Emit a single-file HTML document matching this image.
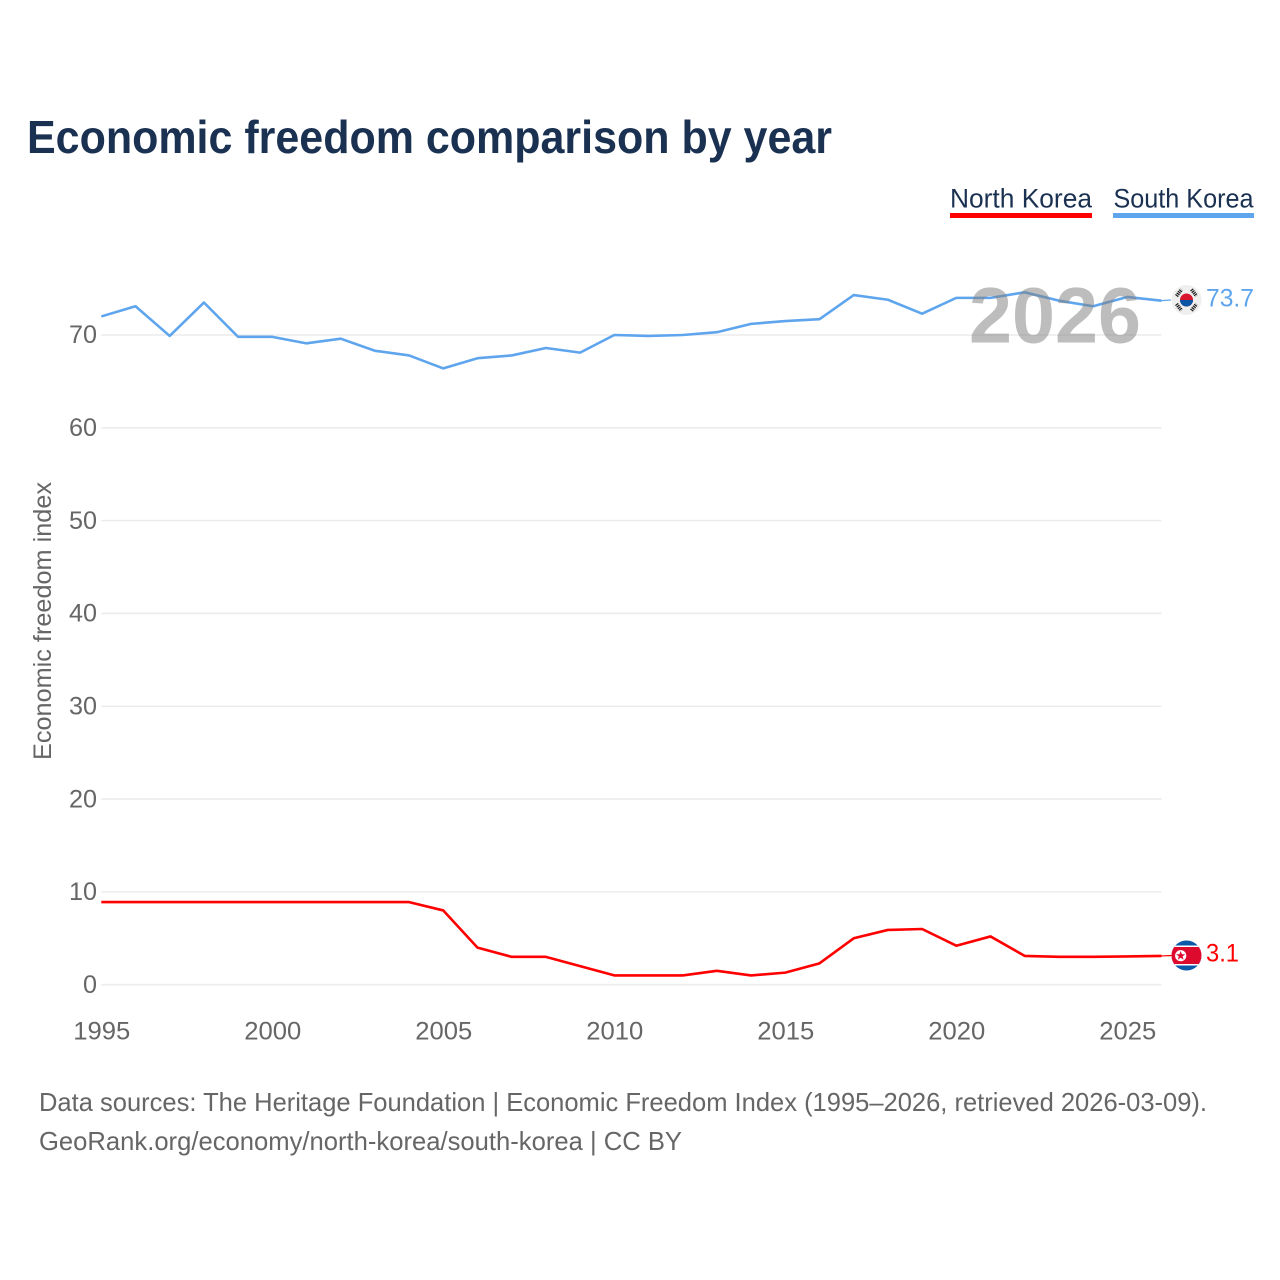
<!DOCTYPE html>
<html lang="en">
<head>
<meta charset="utf-8">
<title>Economic freedom comparison by year</title>
<style>
html,body{margin:0;padding:0;background:#fff;}
svg{display:block;font-family:"Liberation Sans",sans-serif;}
</style>
</head>
<body>
<svg id="chart" width="1280" height="1280" viewBox="0 0 1280 1280" xmlns="http://www.w3.org/2000/svg">
  <defs>
    <clipPath id="sk-clip"><circle cx="1186.5" cy="300" r="15"/></clipPath>
    <clipPath id="nk-clip"><circle cx="1186.5" cy="955.5" r="15"/></clipPath>
  </defs>
  <rect width="1280" height="1280" fill="#fff"/>
  <text x="27" y="153" font-size="46" font-weight="700" fill="#1a3152" textLength="805" lengthAdjust="spacingAndGlyphs">Economic freedom comparison by year</text>

  <g>
    <g>
      <text x="950" y="207.5" font-size="27" fill="#1a3152" textLength="142" lengthAdjust="spacingAndGlyphs">North Korea</text>
      <rect x="950" y="213" width="142" height="5" fill="#ff0000"/>
    </g>
    <g>
      <text x="1113.5" y="207.5" font-size="27" fill="#1a3152" textLength="140" lengthAdjust="spacingAndGlyphs">South Korea</text>
      <rect x="1113" y="213" width="141" height="5" fill="#5fa5ee"/>
    </g>
  </g>

  <g id="grid"></g>
  <g id="yticks"></g>
  <g id="xticks"></g>
  <g id="series"></g>

  <text transform="translate(51,760) rotate(-90)" x="0" y="0" font-size="25" fill="#666" textLength="278" lengthAdjust="spacingAndGlyphs">Economic freedom index</text>

  <text x="969" y="342.5" font-size="79" font-weight="700" fill="#808080" fill-opacity="0.52" textLength="172" lengthAdjust="spacingAndGlyphs">2026</text>

  <g clip-path="url(#sk-clip)">
    <rect x="1171" y="285" width="31" height="30" fill="#efefef"/>
    <circle cx="1186.5" cy="300" r="6.5" fill="#d8142e"/>
    <path d="M1180 300a6.5 6.5 0 0 0 13 0z" fill="#0a56a5"/>
    <g stroke="#1a1a1a" stroke-width="3.6" stroke-dasharray="1.2 .8" fill="none">
      <path d="M1176.5 296l5-6.5"/>
      <path d="M1191.5 289.5l5 6.5"/>
      <path d="M1176.5 304l5 6.5"/>
      <path d="M1191.5 310.5l5-6.5"/>
    </g>
  </g>
  <text id="sk-value" x="1206" y="306.5" font-size="25" fill="#5fa5ee" textLength="48" lengthAdjust="spacingAndGlyphs"></text>

  <g clip-path="url(#nk-clip)">
    <rect x="1171" y="940" width="31" height="31" fill="#0b57a8"/>
    <rect x="1171" y="945.5" width="31" height="20" fill="#fff"/>
    <rect x="1171" y="947" width="31" height="17" fill="#de0a2e"/>
    <circle cx="1180.7" cy="955.7" r="5.6" fill="#fff"/>
    <polygon points="1180.7,951 1181.9,954.2 1185.3,954.3 1182.6,956.4 1183.6,959.7 1180.7,957.8 1177.8,959.7 1178.8,956.4 1176.1,954.3 1179.5,954.2" fill="#de0a2e"/>
  </g>
  <text id="nk-value" x="1206" y="961.5" font-size="25" fill="#ff0000" textLength="33" lengthAdjust="spacingAndGlyphs"></text>

  <g>
    <text x="39" y="1111" font-size="26" fill="#666" textLength="1168" lengthAdjust="spacingAndGlyphs">Data sources: The Heritage Foundation | Economic Freedom Index (1995–2026, retrieved 2026-03-09).</text>
    <text x="39" y="1150" font-size="26" fill="#666" textLength="643" lengthAdjust="spacingAndGlyphs">GeoRank.org/economy/north-korea/south-korea | CC BY</text>
  </g>
</svg>
<script>
const years = [1995,1996,1997,1998,1999,2000,2001,2002,2003,2004,2005,2006,2007,2008,2009,2010,2011,2012,2013,2014,2015,2016,2017,2018,2019,2020,2021,2022,2023,2024,2025,2026];
const southKorea = [72.0,73.1,69.9,73.5,69.8,69.8,69.1,69.6,68.3,67.8,66.4,67.5,67.8,68.6,68.1,70.0,69.9,70.0,70.3,71.2,71.5,71.7,74.3,73.8,72.3,74.0,74.0,74.6,73.7,73.1,74.1,73.7];
const northKorea = [8.9,8.9,8.9,8.9,8.9,8.9,8.9,8.9,8.9,8.9,8.0,4.0,3.0,3.0,2.0,1.0,1.0,1.0,1.5,1.0,1.3,2.3,5.0,5.9,6.0,4.2,5.2,3.1,3.0,3.0,3.05,3.1];
const yTicks = [0,10,20,30,40,50,60,70];
const xTicks = [1995,2000,2005,2010,2015,2020,2025];

const SVG_NS = 'http://www.w3.org/2000/svg';
function xScale(year){ return 101.3 + (year - 1995) * (1161.5 - 101.3) / 31; }
function yScale(value){ return 984.7 - value * (984.7 - 335) / 70; }
function make(tag, attrs, parent, content){
  const el = document.createElementNS(SVG_NS, tag);
  for (const k in attrs) el.setAttribute(k, attrs[k]);
  if (content !== undefined) el.textContent = content;
  parent.appendChild(el);
  return el;
}
function linePoints(values){
  return values.map((v, i) => xScale(years[i]).toFixed(2) + ',' + yScale(v).toFixed(2)).join(' ');
}

const grid = document.getElementById('grid');
const yGroup = document.getElementById('yticks');
const xGroup = document.getElementById('xticks');
const seriesGroup = document.getElementById('series');

yTicks.forEach(function(t){
  const gl = make('line', {x1: xScale(1995), x2: xScale(2026), y1: yScale(t), y2: yScale(t), stroke: '#ececec', 'stroke-width': 1.6}, grid);
  
  
  const lb = make('text', {x: 97, y: yScale(t) + 8.2, 'text-anchor': 'end', 'font-size': 25, fill: '#666', textLength: t === 0 ? 14 : 28, lengthAdjust: 'spacingAndGlyphs'}, yGroup, String(t));
  
  
});

xTicks.forEach(function(t){
  const lb = make('text', {x: xScale(t) + 0.5, y: 1039.5, 'text-anchor': 'middle', 'font-size': 25, fill: '#666', textLength: 57, lengthAdjust: 'spacingAndGlyphs'}, xGroup, String(t));
  
  
});

const skColor = '#5fa5ee';
const nkColor = '#ff0000';
const last = years.length - 1;

const skLink = make('line', {x1: xScale(2026), x2: 1171, y1: yScale(southKorea[last]), y2: 300, stroke: skColor, 'stroke-width': 1.2}, seriesGroup);


const nkLink = make('line', {x1: xScale(2026), x2: 1172, y1: yScale(northKorea[last]), y2: 955.5, stroke: nkColor, 'stroke-width': 1.2}, seriesGroup);



const skLine = make('polyline', {points: linePoints(southKorea), fill: 'none', stroke: skColor, 'stroke-width': 2.6, 'stroke-linejoin': 'round'}, seriesGroup);


const nkLine = make('polyline', {points: linePoints(northKorea), fill: 'none', stroke: nkColor, 'stroke-width': 2.6, 'stroke-linejoin': 'round'}, seriesGroup);



document.getElementById('sk-value').textContent = southKorea[last].toFixed(1);
document.getElementById('nk-value').textContent = northKorea[last].toFixed(1);
</script>
</body>
</html>
